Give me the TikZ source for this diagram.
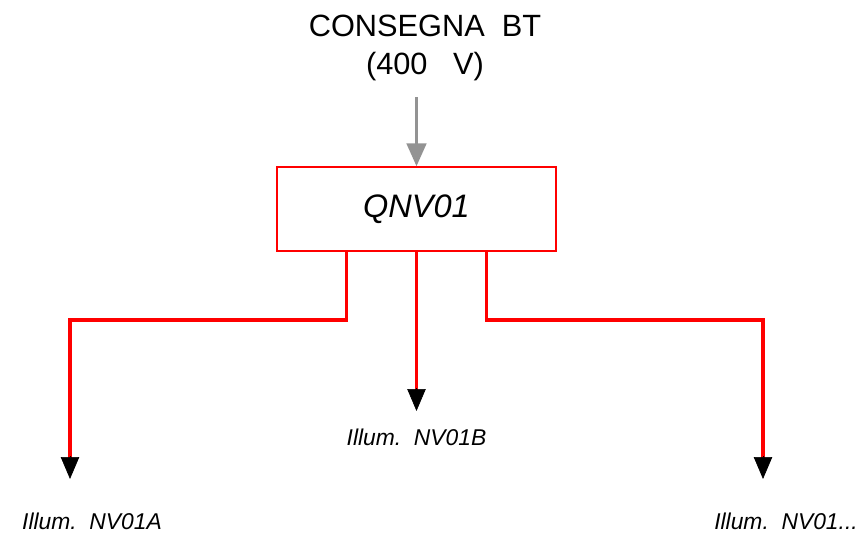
\documentclass[tikz,border=0pt]{standalone}
\usepackage{fontspec}
\setmainfont{Liberation Sans}
\usepackage{tikz}
\usetikzlibrary{arrows.meta,positioning}

\begin{document}
\begin{tikzpicture}[x=0.02cm,y=-0.02cm,
    feed/.style={red,line width=2.2pt},
    tip/.style={-{Triangle[length=12.5pt,width=10.5pt]}},
    lbl/.style={font=\itshape\fontsize{13}{15}\selectfont,inner sep=0pt}]
  \useasboundingbox (0,0) rectangle (865,534);
  \node[align=center,font=\fontsize{17.5}{22}\selectfont,inner sep=0pt] (src) at (425,48) {CONSEGNA\ \ BT\\(400\ \ \ V)};
  \node[draw=red,line width=0.8pt,minimum width=279*0.02cm,minimum height=84*0.02cm,
        font=\itshape\fontsize{18.5}{22}\selectfont] (qnv) at (416.5,209) {\raisebox{-3.5pt}{QNV01}};
  \coordinate (top) at (416.5,97);
  \draw[gray!85,line width=2pt,-{Triangle[length=13pt,width=11pt]}] (top) -- (qnv.north);
  % uscite
  \node[lbl] (na) at (92,521) {Illum.\ \ NV01A};
  \node[lbl] (nb) at (416.5,437) {Illum.\ \ NV01B};
  \node[lbl] (nc) at (786,521) {Illum.\ \ NV01...};
  \coordinate (ea) at (70,479);
  \coordinate (eb) at (416.5,411);
  \coordinate (ec) at (763,479);
  \draw[feed] ([xshift=-70*0.02cm]qnv.south) |- (70,320) -- (70,458);
  \draw[feed] (qnv.south) -- (416.5,390);
  \draw[feed] ([xshift=70*0.02cm]qnv.south) |- (763,320) -- (763,458);
  \draw[tip] (70,456) -- (ea);
  \draw[tip] (416.5,388) -- (eb);
  \draw[tip] (763,456) -- (ec);
\end{tikzpicture}
\end{document}
